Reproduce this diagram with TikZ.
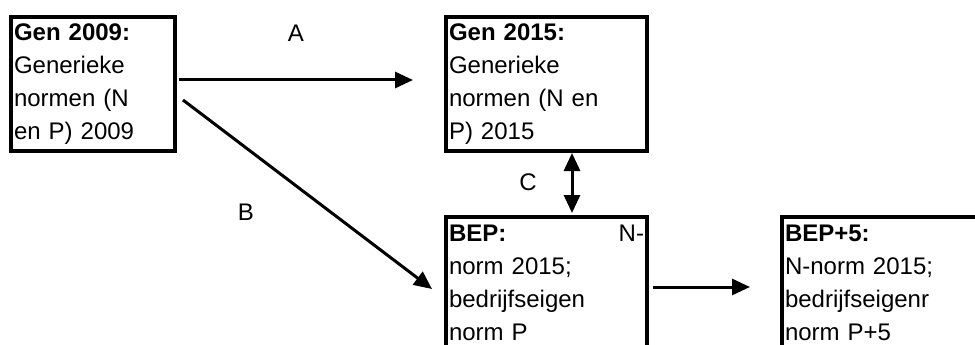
\documentclass[tikz,border=0pt]{standalone}
\usepackage{fontspec}
\setmainfont{Liberation Sans}
\usetikzlibrary{arrows.meta,calc}

\begin{document}
\begin{tikzpicture}[x=1pt, y=-1pt,
    head/.tip={Triangle[length=18pt,width=16pt]},
    normbox/.style={draw, line width=3.25pt, anchor=north west, outer sep=0pt,
      inner xsep=3pt, inner ysep=0pt, align=left, text height=24pt,
      font=\fontsize{24}{33}\selectfont},
    flow/.style={line width=3pt, -head},
    dflow/.style={line width=3pt, head-head},
    lbl/.style={font=\fontsize{24}{33}\selectfont}]
    \useasboundingbox (0,0) rectangle (975,345);
    \clip (0,0) rectangle (975,345);
    \node[normbox, text width=158pt, text depth=110pt] (gen09) at (11,17)
      {\textbf{Gen 2009:}\\Generieke\\normen (N\\en P) 2009};
    \node[normbox, text width=195pt, text depth=110pt] (gen15) at (446,17)
      {\textbf{Gen 2015:}\\Generieke\\normen (N en\\P) 2015};
    \node[normbox, text width=195pt, text depth=150pt] (bep) at (446,217)
      {\textbf{BEP:}\hfill N-\hspace*{13pt}\\norm 2015;\\bedrijfseigen\\norm P};
    \node[normbox, text width=200pt, text depth=150pt] (bep5) at (782,217)
      {\textbf{BEP+5:}\\N-norm 2015;\\bedrijfseigenr\\norm P+5};
    \draw[flow] ($(gen09.north east)+(4,63)$) -- ($(gen15.north west)+(-33,63)$);
    \draw[flow] ($(gen09.north east)+(8,83)$) -- ($(bep.north west)+(-14,72)$);
    \draw[dflow] ($(gen15.south west)+(126,2)$) -- ($(bep.north west)+(126,-4)$);
    \draw[flow] ($(bep.north east)+(6,70)$) -- ($(bep5.north west)+(-32,70)$);
    \node[lbl] (la) at (296,33) {A};
    \node[lbl] (lb) at (246,212) {B};
    \node[lbl] (lc) at (528,182) {C};
\end{tikzpicture}
\end{document}
